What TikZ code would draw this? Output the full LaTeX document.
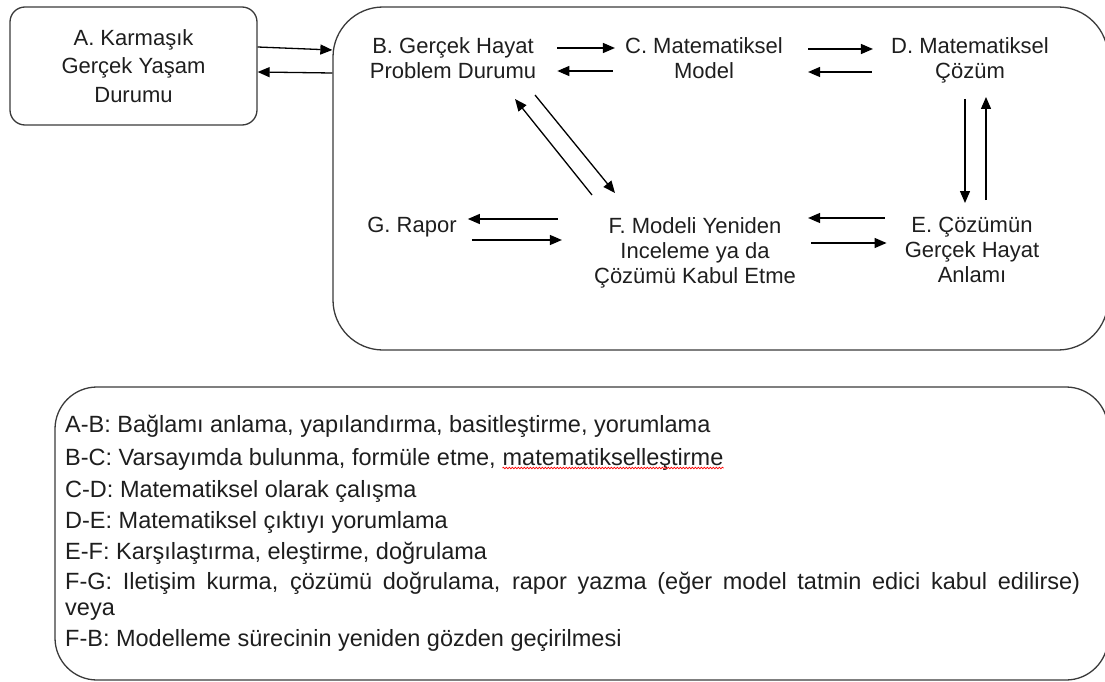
\documentclass[tikz,border=0pt]{standalone}
\usepackage{fontspec}
\setmainfont{Liberation Sans}
\usetikzlibrary{arrows.meta,decorations.pathmorphing}

\definecolor{ink}{HTML}{1E1E1E}
\definecolor{rim}{HTML}{3A3A3A}

\begin{document}
\begin{tikzpicture}[
x=1pt,y=-1pt,
>={Triangle[length=12pt,width=10pt]},
frame/.style={draw=rim,line width=1.3pt,rectangle,rounded corners=#1},
stage/.style={anchor=north,inner sep=0pt,align=center,text=ink,font=\fontsize{22}{25}\selectfont},
entry/.style={anchor=base west,inner sep=0pt,text=ink,font=\fontsize{23.5}{28}\selectfont},
line/.style={draw=black,line width=1.3pt,->},
spell/.style={draw=red,line width=0.7pt,decorate,decoration={snake,amplitude=0.8pt,segment length=3pt}}
]
\useasboundingbox (0,0) rectangle (1105,682);

% boxes
\node[frame=15pt,minimum width=247pt,minimum height=118pt,align=center,text=ink,
  font=\fontsize{22}{28.5}\selectfont] (a) at (133.5,66) {A. Karmaşık\\Gerçek Yaşam\\Durumu};
\node[frame=50pt,minimum width=775pt,minimum height=343pt] (main) at (720.5,178.5) {};
\node[frame=42pt,minimum width=1053pt,minimum height=293pt] (key) at (581.5,533.5) {};

% stages
\node[stage] (b) at (453,37) {B. Gerçek Hayat\\Problem Durumu};
\node[stage] (c) at (704,37) {C. Matematiksel\\Model};
\node[stage] (d) at (970,37) {D. Matematiksel\\Çözüm};
\node[stage] (e) at (972,217) {E. Çözümün\\Gerçek Hayat\\Anlamı};
\node[stage] (f) at (695,217) {F. Modeli Yeniden\\Inceleme ya da\\Çözümü Kabul Etme};
\node[stage] (g) at (412,217) {G. Rapor};

% arrows
\path[line] ([yshift=19pt]a.east) -- ([yshift=128.5pt]main.west);
\path[line] ([yshift=105.5pt]main.west) -- ([yshift=-6pt]a.east);

\path[line] ([xshift=21pt,yshift=-11pt]b.north east) -- ([xshift=-10pt,yshift=-11pt]c.north west);
\path[line] ([xshift=-12pt,yshift=-34pt]c.north west) -- ([xshift=21pt,yshift=-34pt]b.north east);
\path[line] ([xshift=25pt,yshift=-12pt]c.north east) -- ([xshift=-18pt,yshift=-12pt]d.north west);
\path[line] ([xshift=-19pt,yshift=-35pt]d.north west) -- ([xshift=25pt,yshift=-35pt]c.north east);

\path[line] ([xshift=-5pt,yshift=-62pt]d.north) -- ([xshift=-7pt,yshift=14pt]e.north);
\path[line] ([xshift=14pt,yshift=17pt]e.north) -- ([xshift=16pt,yshift=-60pt]d.north);

\path[line] ([xshift=-20pt,yshift=-1pt]e.north west) -- ([xshift=12pt,yshift=-1pt]f.north east);
\path[line] ([xshift=15pt,yshift=-26pt]f.north east) -- ([xshift=-18pt,yshift=-26pt]e.north west);

\path[line] ([xshift=-36pt,yshift=-2pt]f.north west) -- ([xshift=11pt,yshift=-2pt]g.north east);
\path[line] ([xshift=15pt,yshift=-23pt]g.north east) -- ([xshift=-32pt,yshift=-23pt]f.north west);

\path[line] ([xshift=-103pt,yshift=22pt]f.north) -- ([xshift=62pt,yshift=-62pt]b.north);
\path[line] ([xshift=82pt,yshift=-58pt]b.north) -- ([xshift=-80pt,yshift=24pt]f.north);

% key
\node[entry] (ab) at (65,432) {A-B: Bağlamı anlama, yapılandırma, basitleştirme, yorumlama};
\node[entry] (bc) at (65,465) {B-C: Varsayımda bulunma, formüle etme,};
\node[entry] (bcw) at ([xshift=6.5pt]bc.base east) {matematikselleştirme};
\path[spell] ([yshift=-3pt]bcw.base west) -- ([yshift=-3pt]bcw.base east);
\node[entry] (cd) at (65,497) {C-D: Matematiksel olarak çalışma};
\node[entry] (de) at (65,528) {D-E: Matematiksel çıktıyı yorumlama};
\node[entry] (ef) at (65,559) {E-F: Karşılaştırma, eleştirme, doğrulama};
\node[entry] (fg) at (65,589) {\makebox[1015pt][s]{F-G: Iletişim kurma, çözümü doğrulama, rapor yazma (eğer model tatmin edici kabul edilirse)}};
\node[entry] (fg2) at (65,615) {veya};
\node[entry] (fb) at (65,646) {F-B: Modelleme sürecinin yeniden gözden geçirilmesi};

\end{tikzpicture}
\end{document}
